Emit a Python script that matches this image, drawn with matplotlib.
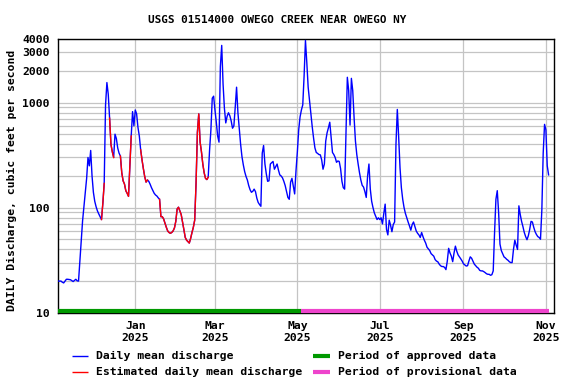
import numpy as np
import pandas as pd
import matplotlib
matplotlib.use("Agg")
import matplotlib.pyplot as plt
import matplotlib.dates as mdates
from matplotlib.ticker import LogLocator, FixedLocator, NullFormatter
from matplotlib.lines import Line2D
import matplotlib.transforms as mtransforms

# ---------------- data ----------------
start_date = "2024-11-05"
discharge = [
    20, 20, 20, 19.5, 19.2, 20, 20.8, 20.8, 20.7, 20.6, 20.2, 19.8, 20.3, 20.8, 20.1, 20,
    31, 47, 75, 102, 140, 190, 300, 250, 350, 200, 140, 115, 102, 93, 87, 82,
    77, 110, 170, 950, 1550, 1200, 710, 400, 340, 300, 500, 455, 370, 330,
    310, 215, 180, 168, 145, 137, 128, 250, 480, 820, 600, 850, 780, 580, 480,
    355, 285, 235, 197, 175, 183, 178, 167, 155, 146, 137, 132, 129, 124,
    120, 82, 82, 78, 71, 65, 60, 58, 57, 58, 60, 64, 74, 97, 101, 93, 86, 73,
    62, 52, 49, 47.5, 46, 51, 58, 65, 76, 170, 520, 780, 420, 340, 260, 215,
    190, 185, 195, 350, 550, 1100, 1150, 850, 650, 480, 420, 2200, 3500, 1500,
    880, 640, 740, 800, 750, 670, 570, 600, 900, 1400, 800, 560, 400, 305, 255,
    220, 198, 183, 162, 148, 140, 143, 150, 142, 123, 112, 107, 103, 330, 390,
    260, 210, 178, 180, 260, 268, 275, 232, 245, 260, 228, 205, 200, 192, 178,
    162, 142, 125, 120, 175, 190, 160, 135, 225, 340, 550, 730, 850, 950, 1800,
    3900, 2400, 1400, 1050, 800, 590, 460, 370, 335, 328, 320, 318, 285, 232,
    260, 430, 515, 575, 650, 470, 335, 320, 300, 270, 278, 275, 235, 178, 155,
    150, 520, 1740, 1300, 610, 1700, 1300, 720, 430, 320, 260, 215, 183, 163,
    157, 142, 125, 200, 260, 150, 115, 100, 89, 83, 77, 80, 77, 80, 70, 88, 108,
    62, 55, 76, 68, 59, 69, 73, 400, 860, 470, 240, 155, 120, 100, 88, 80, 73,
    67, 61, 69, 73, 66, 60, 57, 55, 52, 58, 53, 49, 46, 42, 40.5, 39, 36.5, 35.5,
    34.5, 32, 31, 30.5, 29, 28, 27.5, 27.5, 27, 25.7, 31, 41, 37, 34.5, 30.6, 37,
    43, 38.5, 35.5, 34, 32.5, 31, 29.2, 28.5, 27.8, 28, 31, 34, 33, 31, 29, 28,
    27.1, 26.5, 25.3, 25, 25, 24.6, 24.1, 23.5, 23.2, 23.2, 22.7, 23, 25, 58, 120,
    145, 90, 45, 39, 36.5, 34, 33.2, 32.2, 31.5, 30.5, 30, 30, 40, 49, 44, 40,
    104, 86, 74, 66, 58, 53, 49.5, 54, 62, 74, 73, 65, 59, 55.5, 53, 52, 50, 95,
    330, 620, 550, 250, 205,
]
estimated_periods = [
    ("2024-12-07", "2024-12-08"),
    ("2024-12-13", "2024-12-15"),
    ("2024-12-21", "2024-12-28"),
    ("2025-01-05", "2025-01-09"),
    ("2025-01-19", "2025-02-23"),
]
approved_period = ("2024-11-05", "2025-05-04")
provisional_period = ("2025-05-04", "2025-11-03")
y_tick_values = [10, 100, 1000, 2000, 3000, 4000]
x_tick_dates = ["2025-01-01", "2025-03-01", "2025-05-01", "2025-07-01", "2025-09-01", "2025-11-01"]
x_tick_labels = ["Jan\n2025", "Mar\n2025", "May\n2025", "Jul\n2025", "Sep\n2025", "Nov\n2025"]
title = "USGS 01514000 OWEGO CREEK NEAR OWEGO NY"
ylabel = "DAILY Discharge, cubic feet per second"

# ---------------- plot ----------------
FONT = "DejaVu Sans Mono"
W, H = 576, 384
fig = plt.figure(figsize=(W / 100, H / 100), dpi=100)
ax = fig.add_axes([58 / W, 1 - 312.7 / H, (554 - 58) / W, (312.7 - 39.3) / H])

dates = pd.date_range(start_date, periods=len(discharge), freq="D")
series = pd.Series(discharge, index=dates)

BLUE = "#0000ff"
RED = "#ff0000"
GREEN = "#009900"
PINK = "#ee44cc"

ax.plot(series.index, series.values, color=BLUE, lw=1.0, zorder=3)
for s, e in estimated_periods:
    e_next = pd.Timestamp(e) + pd.Timedelta(days=1)
    seg = series[s:e_next]
    ax.plot(seg.index, seg.values, color=RED, lw=1.0, zorder=4)

ax.set_yscale("log")
ax.set_ylim(10, 4000)
ax.set_xlim(pd.Timestamp(start_date) - pd.Timedelta(days=0.2), pd.Timestamp("2025-11-07"))

ax.yaxis.set_major_locator(FixedLocator(y_tick_values))
ax.set_yticklabels([str(v) for v in y_tick_values])
ax.yaxis.set_minor_locator(LogLocator(base=10, subs=np.arange(2, 10)))
ax.yaxis.set_minor_formatter(NullFormatter())

ax.set_xticks([pd.Timestamp(d) for d in x_tick_dates])
ax.set_xticklabels(x_tick_labels)

ax.grid(True, which="both", axis="y", color="#c4c4c4", lw=0.9, zorder=1)
ax.grid(True, which="major", axis="x", color="#c4c4c4", lw=0.9, zorder=1)
ax.set_axisbelow(True)
ax.tick_params(which="both", length=0)
ax.tick_params(axis="x", pad=6)
ax.tick_params(axis="y", pad=6)
for lab in ax.get_xticklabels() + ax.get_yticklabels():
    lab.set_fontfamily(FONT)
    lab.set_fontweight("bold")
    lab.set_fontsize(8.2)
for sp in ax.spines.values():
    sp.set_linewidth(1.0)
    sp.set_color("black")

# approval bars along the bottom
trans = mtransforms.blended_transform_factory(ax.transData, ax.transAxes)
ax.plot([pd.Timestamp(approved_period[0]) - pd.Timedelta(days=0.5), pd.Timestamp(approved_period[1])],
        [0.007, 0.007], color=GREEN, lw=3, transform=trans, solid_capstyle="butt", zorder=5, clip_on=False)
ax.plot([pd.Timestamp(provisional_period[0]), pd.Timestamp(provisional_period[1]) + pd.Timedelta(days=0.5)],
        [0.007, 0.007], color=PINK, lw=3, transform=trans, solid_capstyle="butt", zorder=5, clip_on=False)

fig.text(277.5 / W, 1 - 20 / H, title, ha="center", va="center",
         family=FONT, weight="bold", fontsize=7.9)
fig.text(12 / W, 1 - 180 / H, ylabel, ha="center", va="center", rotation=90,
         family=FONT, weight="bold", fontsize=8.2)

# legend
legend_items = [
    (72, 88, 356, BLUE, 1.0, "Daily mean discharge"),
    (72, 88, 372, RED, 1.0, "Estimated daily mean discharge"),
    (313, 330, 356, GREEN, 3, "Period of approved data"),
    (313, 330, 372, PINK, 3, "Period of provisional data"),
]
for x0, x1, yy, c, lw, txt in legend_items:
    fig.add_artist(Line2D([x0 / W, x1 / W], [1 - yy / H, 1 - yy / H], color=c, lw=lw,
                          transform=fig.transFigure, solid_capstyle="butt"))
    fig.text((x1 + 8) / W, 1 - yy / H, txt, ha="left", va="center",
             family=FONT, weight="bold", fontsize=8.2)

fig.savefig("out.png", dpi=100)
